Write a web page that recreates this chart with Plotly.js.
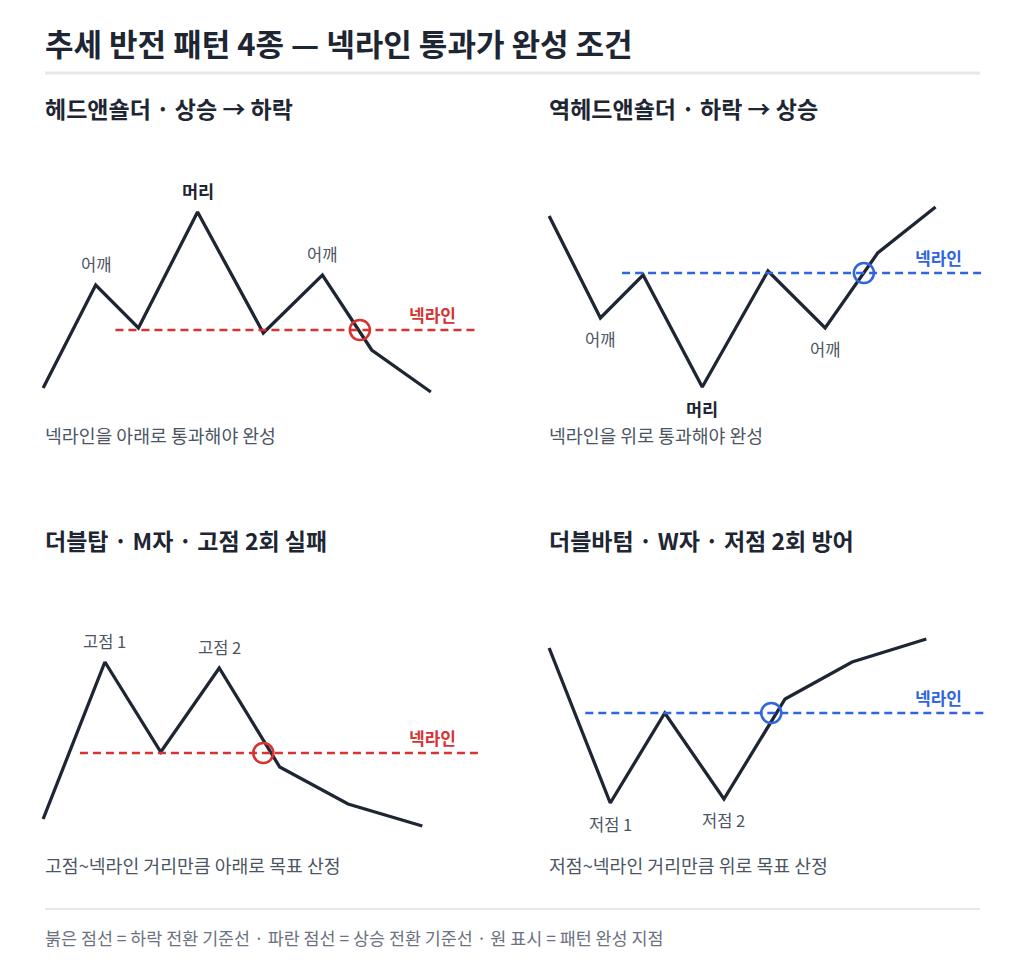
<!DOCTYPE html>
<html>
<head>
<meta charset="utf-8">
<script src="https://cdn.plot.ly/plotly-3.0.1.min.js"></script>
<style>
  html, body { margin: 0; padding: 0; background: #ffffff; }
</style>
</head>
<body>
<div id="plot"></div>
<script>
// 헤드앤숄더 (상승 -> 하락)
var hsX = [0, 8, 14.5, 23.5, 33.5, 42.5, 50, 59];
var hsY = [16, 67.5, 46, 104, 43.5, 72.5, 35, 14];
var hsNeckX = [11, 66];
var hsNeckY = 45;
var hsBreakX = 48.2;
var hsLabelIdx = [1, 3, 5];
var hsLabels = ['어깨', '머리', '어깨'];

// 역헤드앤숄더 (하락 -> 상승)
var ihsX = [0, 7.8, 14.3, 23.3, 33.3, 42, 50, 58.8];
var ihsY = [102, 51, 72.5, 16.5, 74.5, 46, 83.5, 106.5];
var ihsNeckX = [11.1, 65.9];
var ihsNeckY = 73.5;
var ihsBreakX = 47.9;
var ihsLabelIdx = [1, 3, 5];
var ihsLabels = ['어깨', '머리', '어깨'];

// 더블탑 (M자)
var dtX = [0, 9.4, 17.9, 26.8, 36, 46.4, 57.7];
var dtY = [15.5, 94, 49, 91, 41.5, 23, 12];
var dtNeckX = [5.6, 66.9];
var dtNeckY = 48.5;
var dtBreakX = 33.5;
var dtLabelIdx = [1, 3];
var dtLabels = ['고점 1', '고점 2'];

// 더블바텀 (W자)
var dbX = [0, 9.3, 17.6, 26.6, 35.9, 46.1, 57.4];
var dbY = [101, 23.5, 68.5, 25.5, 75.5, 94, 105.5];
var dbNeckX = [5.5, 66.6];
var dbNeckY = 68.5;
var dbBreakX = 33.8;
var dbLabelIdx = [1, 3];
var dbLabels = ['저점 1', '저점 2'];

var panelTitles = ['헤드앤숄더 · 상승 → 하락', '역헤드앤숄더 · 하락 → 상승',
                   '더블탑 · M자 · 고점 2회 실패', '더블바텀 · W자 · 저점 2회 방어'];
var panelNotes = ['넥라인을 아래로 통과해야 완성', '넥라인을 위로 통과해야 완성',
                  '고점~넥라인 거리만큼 아래로 목표 산정', '저점~넥라인 거리만큼 위로 목표 산정'];
var neckText = '넥라인';
var neckLabelX = 59.3;

var FONT = '"Noto Sans CJK KR", "Noto Sans", sans-serif';
var INK = '#1e2633';
var GRAY = '#4b5563';
var RED = '#d63333';
var BLUE = '#2f66dd';
var W = 1024, H = 977;

var data = [];
var annotations = [];

function px(x) { return x / W; }
function py(y) { return 1 - y / H; }

function addPanel(n, X, Y, neckX, neckY, breakX, labelIdx, labels, color, below) {
  var xa = n === 1 ? 'x' : 'x' + n;
  var ya = n === 1 ? 'y' : 'y' + n;
  // price path
  data.push({
    x: X, y: Y, xaxis: xa, yaxis: ya, type: 'scatter', mode: 'lines',
    line: { color: INK, width: 3.3 }, cliponaxis: false, hoverinfo: 'skip'
  });
  // neckline
  data.push({
    x: neckX, y: [neckY, neckY], xaxis: xa, yaxis: ya, type: 'scatter', mode: 'lines',
    line: { color: color, width: 2.4, dash: '8px,5px' }, cliponaxis: false, hoverinfo: 'skip'
  });
  // completion point
  data.push({
    x: [breakX], y: [neckY], xaxis: xa, yaxis: ya, type: 'scatter', mode: 'markers',
    marker: { size: 20, color: 'rgba(0,0,0,0)', line: { color: color, width: 2.6 } },
    cliponaxis: false, hoverinfo: 'skip'
  });
  labelIdx.forEach(function (idx, k) {
    var head = labels[k] === '머리';
    annotations.push({
      xref: xa, yref: ya, x: X[idx], y: Y[idx], text: labels[k], showarrow: false,
      xanchor: 'center', yanchor: 'middle', yshift: below ? -21 : 21,
      font: { family: FONT, size: head ? 17.5 : 16.5, color: head ? INK : GRAY, weight: head ? 700 : 400 }
    });
  });
  annotations.push({
    xref: xa, yref: ya, x: neckLabelX, y: neckY, text: neckText, showarrow: false,
    xanchor: 'center', yanchor: 'middle', yshift: 16,
    font: { family: FONT, size: 17, color: color, weight: 700 }
  });
}

addPanel(1, hsX, hsY, hsNeckX, hsNeckY, hsBreakX, hsLabelIdx, hsLabels, RED, false);
addPanel(2, ihsX, ihsY, ihsNeckX, ihsNeckY, ihsBreakX, ihsLabelIdx, ihsLabels, BLUE, true);
addPanel(3, dtX, dtY, dtNeckX, dtNeckY, dtBreakX, dtLabelIdx, dtLabels, RED, false);
addPanel(4, dbX, dbY, dbNeckX, dbNeckY, dbBreakX, dbLabelIdx, dbLabels, BLUE, true);

// header, panel titles, notes, footer
annotations.push({
  xref: 'paper', yref: 'paper', x: px(43), y: py(42), xanchor: 'left', yanchor: 'middle',
  text: '추세 반전 패턴 4종 — 넥라인 통과가 완성 조건', showarrow: false,
  font: { family: FONT, size: 31, color: INK, weight: 700 }
});
var colX = [43, 547, 43, 547];
var titleY = [108, 108, 540, 540];
var noteY = [435, 435, 865, 865];
panelTitles.forEach(function (t, i) {
  annotations.push({
    xref: 'paper', yref: 'paper', x: px(colX[i]), y: py(titleY[i]), xanchor: 'left', yanchor: 'middle',
    text: t, showarrow: false, font: { family: FONT, size: 23, color: INK, weight: 700 }
  });
  annotations.push({
    xref: 'paper', yref: 'paper', x: px(colX[i]), y: py(noteY[i]), xanchor: 'left', yanchor: 'middle',
    text: panelNotes[i], showarrow: false, font: { family: FONT, size: 18.3, color: GRAY }
  });
});
annotations.push({
  xref: 'paper', yref: 'paper', x: px(43), y: py(937), xanchor: 'left', yanchor: 'middle',
  text: '붉은 점선 = 하락 전환 기준선 · 파란 점선 = 상승 전환 기준선 · 원 표시 = 패턴 완성 지점',
  showarrow: false, font: { family: FONT, size: 17.4, color: '#6b7280' }
});

var hidden = { visible: false, fixedrange: true, range: [-2, 68] };
var hiddenY = { visible: false, fixedrange: true, range: [0, 135] };
function ax(base, dom) { return Object.assign({}, base, { domain: dom }); }

var layout = {
  width: W, height: H,
  margin: { l: 0, r: 0, t: 0, b: 0 },
  paper_bgcolor: '#ffffff', plot_bgcolor: '#ffffff',
  showlegend: false,
  xaxis: ax(hidden, [px(30), px(490)]), yaxis: ax(hiddenY, [py(420), py(150)]),
  xaxis2: ax(hidden, [px(536), px(996)]), yaxis2: ax(hiddenY, [py(420), py(150)]),
  xaxis3: ax(hidden, [px(30), px(490)]), yaxis3: ax(hiddenY, [py(850), py(580)]),
  xaxis4: ax(hidden, [px(536), px(996)]), yaxis4: ax(hiddenY, [py(850), py(580)]),
  shapes: [
    { type: 'line', xref: 'paper', yref: 'paper', x0: px(45), x1: px(980), y0: py(73), y1: py(73),
      line: { color: '#e5e7eb', width: 3 } },
    { type: 'line', xref: 'paper', yref: 'paper', x0: px(45), x1: px(980), y0: py(909), y1: py(909),
      line: { color: '#e5e7eb', width: 2 } }
  ],
  annotations: annotations
};

Plotly.newPlot('plot', data, layout, { displayModeBar: false, staticPlot: true });
</script>
</body>
</html>
